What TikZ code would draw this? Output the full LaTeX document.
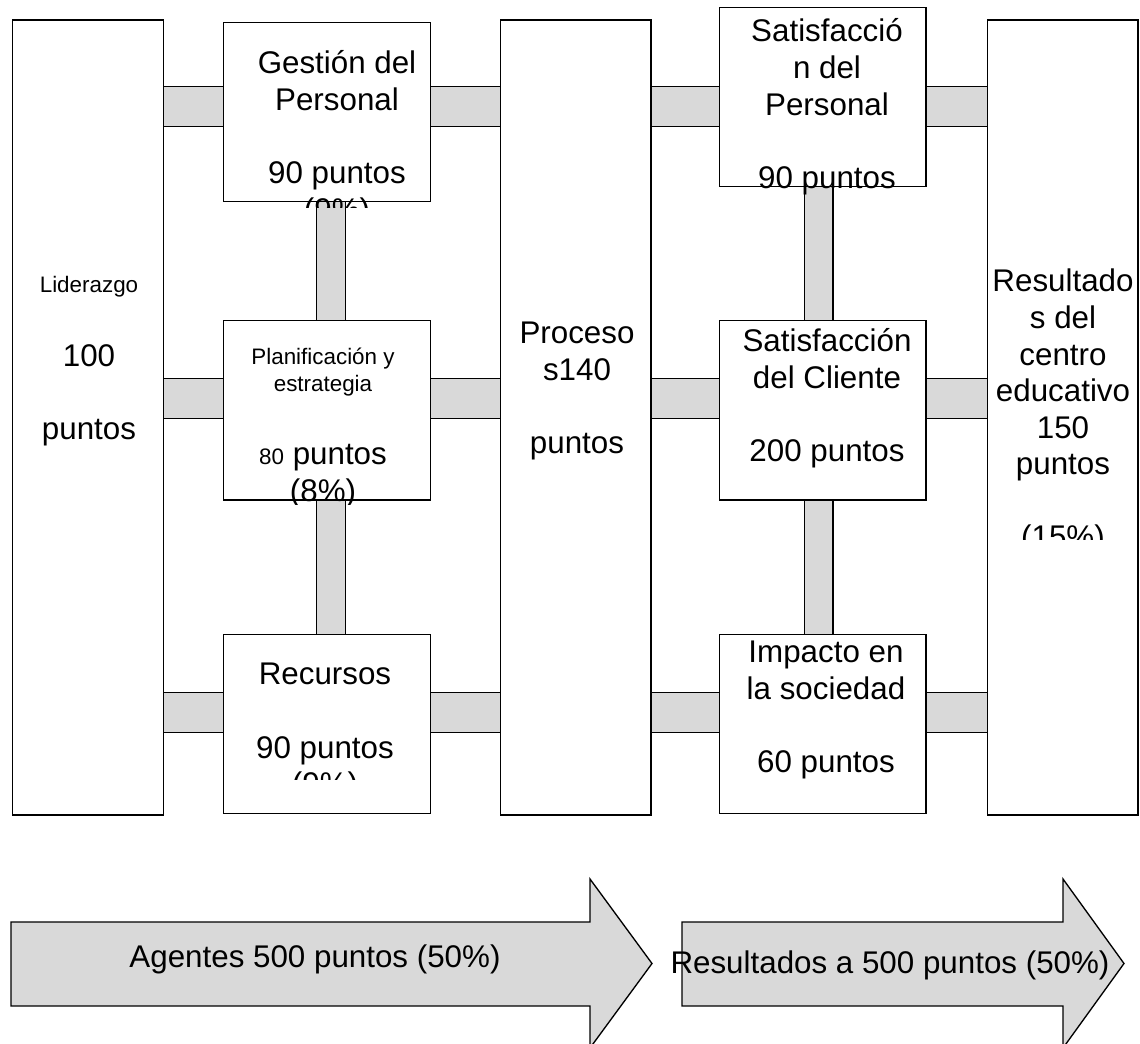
\documentclass[tikz,border=0pt]{standalone}
\usepackage{fontspec}
\setmainfont{Liberation Sans}
\usetikzlibrary{backgrounds}
\newcommand\bigtxt{\fontsize{23.5}{27.4}\selectfont}
\newcommand\smalltxt{\fontsize{16.8}{20.2}\selectfont}
\newcommand\lines[1]{\parbox[t]{220pt}{\centering #1}}
\colorlet{barfill}{black!15}
\tikzset{
    box/.style={draw, line width=1pt, fill=white, inner sep=0pt, outer sep=0pt},
    tall/.style={box, minimum width=113pt, minimum height=596.25pt},
    small/.style={box, minimum width=155pt, minimum height=134.5pt},
    hbar/.style={draw=black, line width=0.8pt, double=barfill, double distance=29.15pt},
    vbar/.style={draw=black, line width=0.8pt, double=barfill, double distance=20.9pt},
    arw/.style={draw, line width=1pt, fill=barfill, line join=miter},
    txt/.style={anchor=base, inner sep=0pt, font=\bigtxt}
}
\begin{document}
\begin{tikzpicture}[x=0.75pt,y=-0.75pt]
        \clip (0,0) rectangle (1140,1044);
        % boxes
            \foreach \n/\x in {lid/88,pro/575.5,res/1062.5}{
                \node[tall] (\n) at (\x,417.5) {};
            }
            \foreach \n/\x/\y in {ges/327/112,pla/327/410.5,rec/327/724,spe/822.5/97,scl/822.5/410.5,imp/822.5/724}{
                \node[small] (\n) at (\x,\y) {};
            }
        % bars
            \coordinate (row1) at (0,106.5);
            \coordinate (row2) at (0,398.5);
            \coordinate (row3) at (0,712.5);
            \coordinate (col1) at (331,0);
            \coordinate (col2) at (818.5,0);
            \begin{pgfonlayer}{background}
            \foreach \r/\m/\n in {row1/ges/spe,row2/pla/scl,row3/rec/imp}{
                \foreach \a/\b in {lid/\m,\m/pro,pro/\n,\n/res}{
                    \draw[hbar] (\a.east |- \r) -- (\b.west |- \r);
                }
            }
            \foreach \c/\a/\b in {col1/ges/pla,col1/pla/rec,col2/spe/scl,col2/scl/imp}{
                \draw[vbar] (\a.south -| \c) -- (\b.north -| \c);
            }
            \end{pgfonlayer}
        % texts
            \node[txt] (lid-t) at (89,293) {\lines{{\smalltxt Liderazgo}\\[27.4pt]100\\[27.4pt]puntos}};
            \node[txt] (pro-t) at (577,344) {\lines{Proceso\\s140\\[27.4pt]puntos}};
            \node[txt] (scl-t) at (827,352) {\lines{Satisfacción\\del Cliente\\[27.4pt]200 puntos}};
            \node[txt] (imp-t) at (826,663) {\lines{Impacto en\\la sociedad\\[27.4pt]60 puntos}};
            \begin{scope}
                \clip (ges.north west) rectangle (ges.east |- 0,208);
                \node[txt] (ges-t) at (337,74) {\lines{Gestión del\\Personal\\[27.4pt]90 puntos\\(9\%)}};
            \end{scope}
            \begin{scope}
                \clip (pla.north west) rectangle (pla.east |- 0,505);
                \node[txt] (pla-t) at (323,365) {\lines{{\smalltxt Planificación y\\[-7.15pt]estrategia}\\[27.35pt]{\smalltxt 80} puntos\\(8\%)}};
            \end{scope}
            \begin{scope}
                \clip (rec.north west) rectangle (rec.east |- 0,780);
                \node[txt] (rec-t) at (325,685) {\lines{Recursos\\[27.4pt]90 puntos\\(9\%)}};
            \end{scope}
            \begin{scope}
                \clip (spe.north west) rectangle (spe.east |- 0,196);
                \node[txt] (spe-t) at (827,42) {\lines{Satisfacció\\n del\\Personal\\[27.4pt]90 puntos}};
            \end{scope}
            \begin{scope}
                \clip (res.north west) rectangle (res.east |- 0,540);
                \node[txt] (res-t) at (1063,292) {\lines{Resultado\\s del\\centro\\educativo\\150\\puntos\\[27.4pt](15\%)}};
            \end{scope}
        % arrows
            \draw[arw] (11,922) -- (590,922) -- (590,879) -- (652,963.5) -- (590,1048) -- (590,1006) -- (11,1006) -- cycle;
            \draw[arw] (682,922) -- (1063,922) -- (1063,879) -- (1124,963.5) -- (1063,1048) -- (1063,1006) -- (682,1006) -- cycle;
            \node[txt] (agt) at (315,967) {Agentes 500 puntos (50\%)};
            \node[txt] (rsl) at (890,973) {Resultados a 500 puntos (50\%)};
\end{tikzpicture}
\end{document}
